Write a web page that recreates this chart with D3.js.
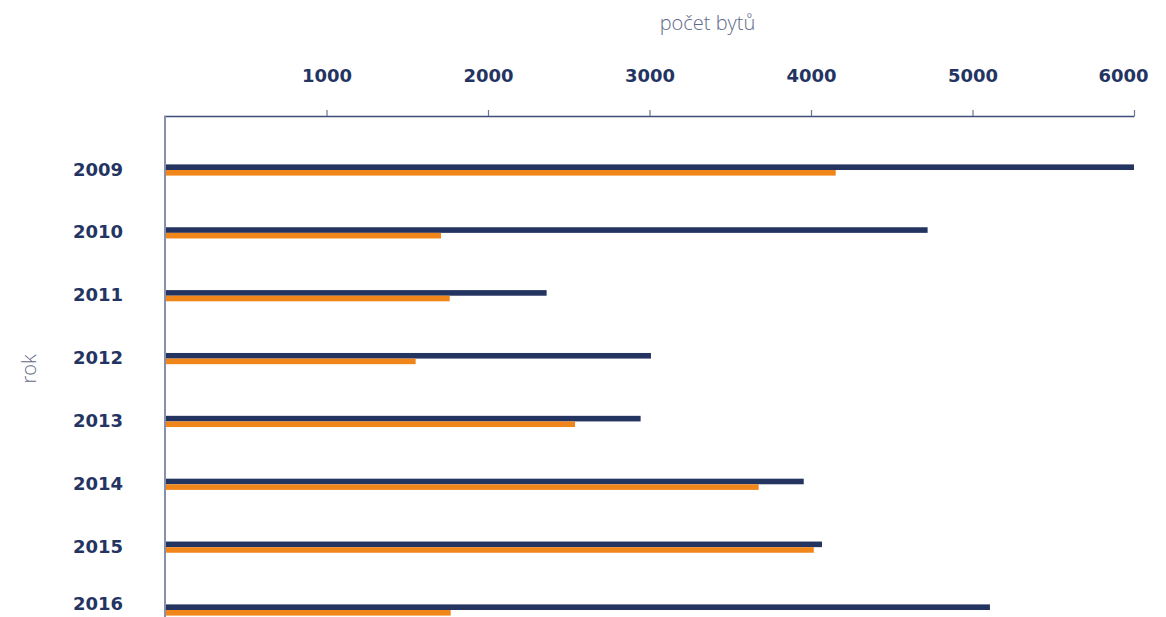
<!DOCTYPE html>
<html>
<head>
<meta charset="utf-8">
<script src="https://cdn.jsdelivr.net/npm/d3@7"></script>
<style>
  html, body { margin: 0; padding: 0; background: #ffffff; }
  svg { display: block; }
</style>
</head>
<body>
<svg id="chart" width="1166" height="617"></svg>
<script>
// ---- data ----
const years = ["2009", "2010", "2011", "2012", "2013", "2014", "2015", "2016"];
const seriesNavy = [6000, 4722, 2363, 3009, 2945, 3955, 4068, 5108];
const seriesOrange = [4153, 1709, 1763, 1552, 2539, 3676, 4017, 1769];
const tickValues = [1000, 2000, 3000, 4000, 5000, 6000];
const xTitle = "počet bytů";
const yTitle = "rok";

// ---- style ----
const navy = "#233461";
const orange = "#f0861a";
const axisTextColor = "#243462";
const titleColor = "#5f6989";

const svg = d3.select("#chart");
const x = d3.scaleLinear().domain([0, 6000]).range([165, 1134]);
const y = d3.scalePoint().domain(years).range([170, 610]);
const barH = 5.6;

// top axis
const xAxis = d3.axisTop(x).tickValues(tickValues).tickSize(6).tickSizeOuter(0).tickFormat(d3.format("d"));
const gx = svg.append("g").attr("transform", "translate(0,116)").call(xAxis);
gx.select(".domain").attr("stroke", "#3d4c78").attr("stroke-width", 1.5);
gx.selectAll(".tick line").attr("stroke", "#6c7593").attr("stroke-width", 1.2);
gx.selectAll(".tick text")
  .attr("y", -40)
  .attr("dy", "0.35em")
  .attr("fill", axisTextColor)
  .style("font-family", "'DejaVu Sans', sans-serif")
  .style("font-weight", "bold")
  .style("font-size", "18px")
  .attr("dx", d => d === 6000 ? -11 : 0);

// left axis line
svg.append("line")
  .attr("x1", x(0)).attr("x2", x(0))
  .attr("y1", 115.5).attr("y2", 617)
  .attr("stroke", "#8790ab").attr("stroke-width", 2);

// bars
svg.append("g").selectAll("rect.navy")
  .data(years).join("rect")
  .attr("x", x(0) + 1)
  .attr("y", d => y(d) - barH)
  .attr("width", (d, i) => x(seriesNavy[i]) - x(0) - 1)
  .attr("height", barH)
  .attr("fill", navy);

svg.append("g").selectAll("rect.orange")
  .data(years).join("rect")
  .attr("x", x(0) + 1)
  .attr("y", d => y(d))
  .attr("width", (d, i) => x(seriesOrange[i]) - x(0) - 1)
  .attr("height", barH)
  .attr("fill", orange);

// year labels (last one kept inside the picture)
svg.append("g").selectAll("text")
  .data(years).join("text")
  .attr("x", 123)
  .attr("y", d => Math.min(y(d) - 0.8, 604))
  .attr("dy", "0.35em")
  .attr("text-anchor", "end")
  .attr("fill", axisTextColor)
  .style("font-family", "'DejaVu Sans', sans-serif")
  .style("font-weight", "bold")
  .style("font-size", "18px")
  .text(d => d);

// axis titles
svg.append("text")
  .attr("x", 707.5).attr("y", 30)
  .attr("text-anchor", "middle")
  .attr("fill", titleColor)
  .style("font-family", "'Open Sans', sans-serif")
  .style("font-weight", 300)
  .style("font-size", "20px")
  .text(xTitle);

svg.append("text")
  .attr("transform", "translate(36,369) rotate(-90)")
  .attr("text-anchor", "middle")
  .attr("fill", titleColor)
  .style("font-family", "'Open Sans', sans-serif")
  .style("font-weight", 300)
  .style("font-size", "20px")
  .text(yTitle);
</script>
</body>
</html>
